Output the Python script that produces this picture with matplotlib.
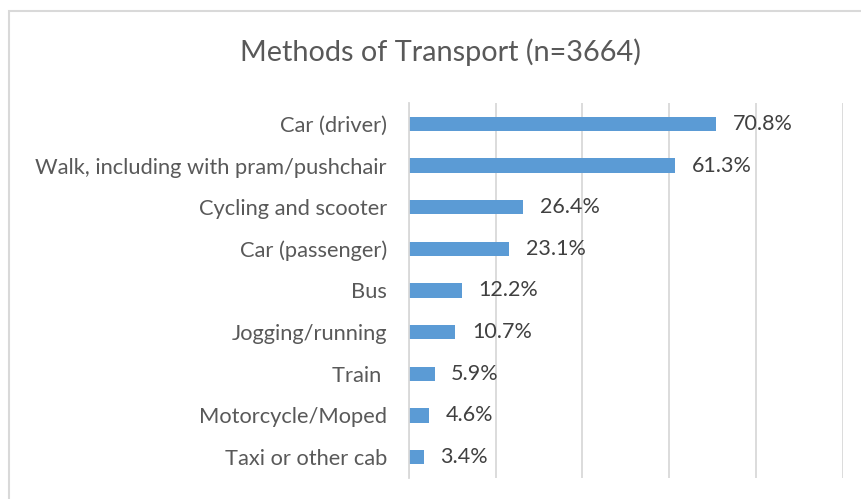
import matplotlib
matplotlib.use("Agg")
import matplotlib.pyplot as plt
from matplotlib.patches import Rectangle

categories = ["Car (driver)", "Walk, including with pram/pushchair", "Cycling and scooter",
              "Car (passenger)", "Bus", "Jogging/running", "Train ", "Motorcycle/Moped",
              "Taxi or other cab"]
values = [70.8, 61.3, 26.4, 23.1, 12.2, 10.7, 5.9, 4.6, 3.4]
value_labels = ["70.8%", "61.3%", "26.4%", "23.1%", "12.2%", "10.7%", "5.9%", "4.6%", "3.4%"]
title = "Methods of Transport (n=3664)"

W, H = 862, 499
fig = plt.figure(figsize=(W / 100, H / 100), dpi=100)
plt.rcParams['font.family'] = ['Lato', 'DejaVu Sans']

# outer chart border
fig.patches.append(Rectangle((9 / W, -0.1), 1.2, (H - 11) / H + 0.1, transform=fig.transFigure,
                             fill=False, edgecolor="#D9D9D9", linewidth=1.5))

ax = fig.add_axes([409 / W, (H - 478) / H, (842.7 - 409) / W, (478 - 103) / H])
ypos = list(range(len(categories)))
ax.barh(ypos, values, height=0.34, color="#5B9BD5", zorder=3)
ax.set_ylim(len(categories) - 0.5, -0.5)
ax.set_xlim(0, 100)
ax.set_xticks([0, 20, 40, 60, 80, 100])
ax.set_xticklabels([])
ax.tick_params(axis="x", length=0)
ax.grid(axis="x", color="#D9D9D9", linewidth=1.3, zorder=0)
ax.set_yticks(ypos)
ax.set_yticklabels(categories, fontsize=15.75, color="#595959")
ax.tick_params(axis="y", length=0, pad=16)
for s in ["top", "right", "bottom"]:
    ax.spines[s].set_visible(False)
ax.spines["left"].set_color("#D9D9D9")
ax.spines["left"].set_linewidth(1.3)
ax.spines["left"].set_zorder(4)

for y, v, lab in zip(ypos, values, value_labels):
    ax.annotate(lab, (v, y), xytext=(12, 0), textcoords="offset points",
                va="center", ha="left", fontsize=15.5, color="#404040")

fig.text(440 / W, 1 - 52 / H, title, ha="center", va="center", fontsize=20.8, color="#595959")

fig.savefig("out.png", dpi=100)
